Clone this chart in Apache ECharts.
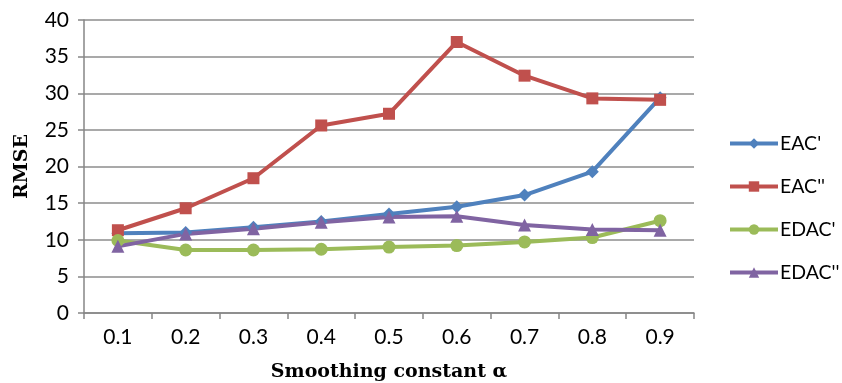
<!DOCTYPE html>
<html><head><meta charset="utf-8">
<script src="https://cdn.jsdelivr.net/npm/echarts@6/dist/echarts.min.js"></script>
<style>html,body{margin:0;padding:0;background:#fff}#c{width:842px;height:383px}</style>
</head><body><div id="c"></div>
<script>
const categories = ['0.1','0.2','0.3','0.4','0.5','0.6','0.7','0.8','0.9'];
const eac1 = [10.9, 11.0, 11.7, 12.5, 13.5, 14.5, 16.1, 19.3, 29.4];
const eac2 = [11.3, 14.3, 18.4, 25.6, 27.2, 37.0, 32.4, 29.3, 29.1];
const edac1 = [9.9, 8.6, 8.6, 8.7, 9.0, 9.2, 9.7, 10.3, 12.6];
const edac2 = [9.1, 10.8, 11.5, 12.4, 13.1, 13.2, 12.0, 11.4, 11.3];
const yTicks = [0,5,10,15,20,25,30,35,40];

const chart = echarts.init(document.getElementById('c'));
const mk = (name, data, color, symbol, size) => ({
  name, type:'line', data, symbol, symbolSize:size,
  lineStyle:{color, width:4}, itemStyle:{color}, color, z: 2
});
chart.setOption({
  animation:false,
  grid:{left:84, right:148, top:20, bottom:70, outerBoundsMode:'none', containLabel:false},
  legend:{
    orient:'vertical', left:728, top:133, padding:0, itemWidth:48, itemHeight:13, itemGap:22,
    lineStyle:{width:4},
    textStyle:{fontFamily:'Lato', fontSize:19.5, lineHeight:21, color:'#000', padding:[0,0,0,-3], overflow:'none'},
    data:['EAC\'','EAC\'\'','EDAC\'','EDAC\'\'']
  },
  xAxis:{
    type:'category', data:categories, boundaryGap:true,
    name:'Smoothing constant α', nameLocation:'middle', nameGap:50,
    nameTextStyle:{fontFamily:'DejaVu Serif', fontWeight:'bold', fontSize:19, color:'#000'},
    axisLine:{lineStyle:{color:'#868686', width:1.5}},
    axisTick:{show:true, length:6, lineStyle:{color:'#868686', width:1.5}},
    axisLabel:{fontFamily:'Lato', fontSize:21, color:'#000', margin:14}
  },
  yAxis:{
    type:'value', min:yTicks[0], max:yTicks[yTicks.length-1], interval:5,
    name:'RMSE', nameLocation:'middle', nameGap:52,
    nameTextStyle:{fontFamily:'DejaVu Serif', fontWeight:'bold', fontSize:19, color:'#000'},
    axisLine:{show:true, lineStyle:{color:'#868686', width:1.5}},
    axisTick:{show:true, length:6, lineStyle:{color:'#868686', width:1.5}},
    axisLabel:{fontFamily:'Lato', fontSize:21, color:'#000', margin:15},
    splitLine:{lineStyle:{color:'#8c8c8c', width:1.5}}
  },
  series:[
    mk('EAC\'', eac1, '#4F81BD', 'diamond', 13),
    mk('EAC\'\'', eac2, '#C0504D', 'rect', 12),
    mk('EDAC\'', edac1, '#9BBB59', 'circle', 13),
    mk('EDAC\'\'', edac2, '#8064A2', 'triangle', 13)
  ]
});
</script></body></html>
